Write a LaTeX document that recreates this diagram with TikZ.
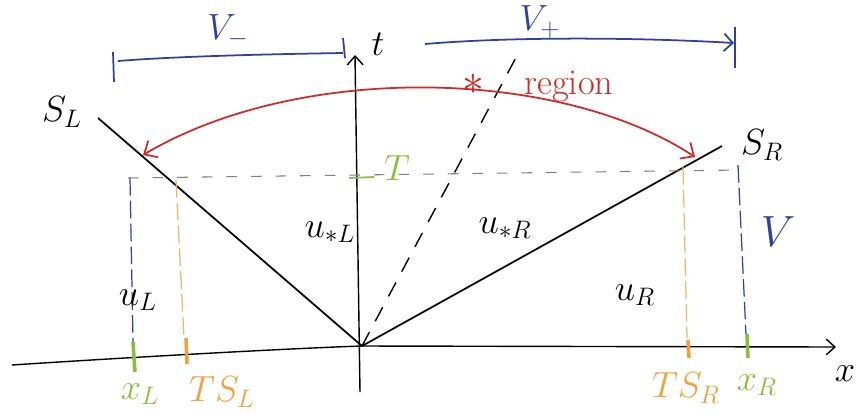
\documentclass[tikz,border=0pt]{standalone}
\usepackage{tikz}
\usetikzlibrary{arrows.meta,positioning}
\definecolor{penblue}{RGB}{45,65,160}
\definecolor{penred}{RGB}{210,40,40}
\definecolor{pengreen}{RGB}{140,190,60}
\definecolor{penorange}{RGB}{240,160,60}

\begin{document}
\begin{tikzpicture}[
  x=0.02cm, y=-0.02cm,
  lbl/.style={font=\huge, inner sep=1pt},
  axis/.style={line width=0.8pt, -{Straight Barb[length=5pt,width=9pt]}},
  wave/.style={line width=1pt},
  fanline/.style={line width=0.8pt, dash pattern=on 9pt off 7pt},
  tline/.style={line width=0.6pt, gray, dash pattern=on 6pt off 8pt},
  xlline/.style={line width=0.7pt, penblue, dash pattern=on 10pt off 3pt},
  tsline/.style={line width=0.7pt, penorange!80, dash pattern=on 10pt off 3pt},
  greentick/.style={line width=2pt, pengreen},
  orangetick/.style={line width=2pt, penorange},
  bluebar/.style={line width=1pt, penblue},
]
\useasboundingbox (0,0) rectangle (859,417);

% --- axes ---
\coordinate (O) at (362,346);
\coordinate (xstart) at (12,365);
\coordinate (xend) at (836,347);
\coordinate (tstart) at (360,392);
\coordinate (tend) at (355,55);
\draw[axis] (xstart) .. controls (150,356) and (300,348) .. (O) -- (xend);
\draw[axis] (tstart) -- (tend);
\node[lbl] (xlab) at (845,374) {$x$};
\node[lbl] (tlab) at (378,44) {$t$};

% --- waves from the origin ---
\coordinate (SLend) at (98,118);
\coordinate (SRend) at (722,146);
\coordinate (CDend) at (520,50);
\draw[wave] (O) -- (SLend);
\draw[wave] (O) -- (SRend);
\draw[fanline] (O) -- (CDend);
\node[lbl] (SL) at (62,112) {$S_L$};
\node[lbl] (SR) at (762,145) {$S_R$};

% --- time level T ---
\coordinate (Tl) at (128,178);
\coordinate (Tr) at (740,170);
\draw[tline] (Tl) -- (Tr);
\coordinate (Ta) at (349,178);
\coordinate (Tb) at (374,177);
\draw[pengreen, line width=1pt] (Ta) -- (Tb);
\node[lbl, pengreen] (Tlab) at (397,168) {$T$};

% --- left verticals ---
\coordinate (xLtop) at (130,178);
\coordinate (xLbot) at (133,342);
\draw[xlline] (xLtop) -- (xLbot);
\coordinate (xLa) at (133,342);
\coordinate (xLb) at (135,372);
\draw[greentick] (xLa) -- (xLb);
\node[lbl, pengreen] (xL) at (140,394) {$x_L$};

\coordinate (TSLtop) at (176,180);
\coordinate (TSLbot) at (184,338);
\draw[tsline] (TSLtop) -- (TSLbot);
\coordinate (TSLa) at (186,338);
\coordinate (TSLb) at (187,364);
\draw[orangetick] (TSLa) -- (TSLb);
\node[lbl, penorange] (TSL) at (222,392) {$TS_L$};

% --- right verticals ---
\coordinate (TSRtop) at (683,167);
\coordinate (TSRbot) at (687,338);
\draw[tsline] (TSRtop) -- (TSRbot);
\coordinate (TSRa) at (688,340);
\coordinate (TSRb) at (689,358);
\draw[orangetick] (TSRa) -- (TSRb);
\node[lbl, penorange] (TSR) at (686,388) {$TS_R$};

\coordinate (xRtop) at (738,165);
\coordinate (xRbot) at (746,335);
\draw[xlline] (xRtop) -- (xRbot);
\coordinate (xRa) at (747,334);
\coordinate (xRb) at (748,358);
\draw[greentick] (xRa) -- (xRb);
\node[lbl, pengreen] (xR) at (757,385) {$x_R$};
\node[font=\Huge, penblue] (Vlab) at (778,232) {$V$};

% --- states ---
\node[lbl] (uL) at (138,300) {$u_L$};
\node[lbl] (usL) at (330,232) {$u_{*L}$};
\node[lbl] (usR) at (505,228) {$u_{*R}$};
\node[lbl] (uR) at (635,295) {$u_R$};

% --- V- bracket ---
\coordinate (Vma) at (113,52);
\coordinate (Vmb) at (114,82);
\draw[bluebar] (Vma) -- (Vmb);
\coordinate (Vmc) at (343,38);
\coordinate (Vmd) at (345,58);
\draw[bluebar] (Vmc) -- (Vmd);
\coordinate (Vml) at (118,61);
\coordinate (Vmr) at (343,53);
\draw[bluebar] (Vml) .. controls (180,56) and (280,54) .. (Vmr);
\node[lbl, penblue] (Vminus) at (228,31) {$V_-$};

% --- V+ arrow ---
\coordinate (Vpa) at (735,27);
\coordinate (Vpb) at (735,68);
\draw[bluebar] (Vpa) -- (Vpb);
\coordinate (Vpl) at (425,44);
\coordinate (Vpr) at (734,43);
\draw[bluebar, -{Straight Barb[length=5pt,width=10pt]}] (Vpl) .. controls (520,36) and (650,38) .. (Vpr);
\node[lbl, penblue] (Vplus) at (540,22) {$V_+$};

% --- star region ---
\coordinate (redL) at (143,155);
\coordinate (redR) at (695,157);
\draw[penred, line width=1pt, {Straight Barb[length=6pt,width=11pt]}-{Straight Barb[length=6pt,width=11pt]}]
  (redL) .. controls (300,62) and (560,68) .. (redR);
\node[lbl, penred] (star) at (538,86) {{\Huge$*$}\hspace{1.1em}region};
\end{tikzpicture}
\end{document}
